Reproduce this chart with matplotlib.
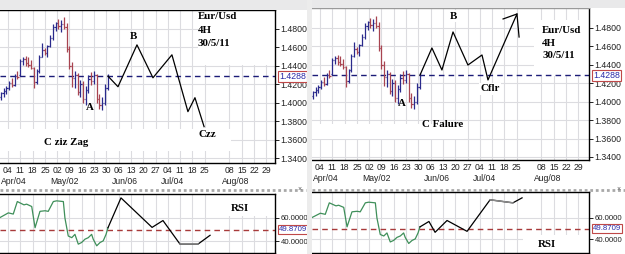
import numpy as np
import matplotlib
matplotlib.use("Agg")
import matplotlib.pyplot as plt
from matplotlib.patches import Rectangle
from matplotlib.lines import Line2D

# x unit: days since Mon 04 Apr 2011
# OHLC bars (EUR/USD, compressed 4H history up to 30/5/11)
opens = [1.406, 1.410, 1.413, 1.416, 1.421, 1.419, 1.429, 1.430, 1.445, 1.447,
         1.443, 1.441, 1.438, 1.422, 1.434, 1.450, 1.457, 1.454, 1.461, 1.470,
         1.482, 1.486, 1.483, 1.485, 1.482, 1.458, 1.440, 1.427, 1.430, 1.412,
         1.420, 1.404, 1.414, 1.426, 1.424, 1.430, 1.404, 1.397, 1.400, 1.416]
highs = [1.412, 1.416, 1.418, 1.424, 1.427, 1.431, 1.434, 1.447, 1.450, 1.451,
         1.450, 1.446, 1.439, 1.436, 1.452, 1.465, 1.459, 1.463, 1.473, 1.485,
         1.488, 1.491, 1.490, 1.493, 1.486, 1.461, 1.444, 1.434, 1.432, 1.425,
         1.423, 1.418, 1.430, 1.433, 1.434, 1.431, 1.409, 1.406, 1.420, 1.431]
lows = [1.403, 1.406, 1.409, 1.414, 1.417, 1.418, 1.426, 1.429, 1.441, 1.440,
        1.439, 1.436, 1.416, 1.420, 1.432, 1.449, 1.452, 1.450, 1.460, 1.468,
        1.478, 1.480, 1.477, 1.480, 1.455, 1.436, 1.417, 1.416, 1.408, 1.406,
        1.400, 1.398, 1.410, 1.419, 1.420, 1.400, 1.393, 1.392, 1.398, 1.414]
closes = [1.410, 1.413, 1.416, 1.421, 1.419, 1.429, 1.428, 1.445, 1.447, 1.443,
          1.441, 1.438, 1.422, 1.434, 1.450, 1.457, 1.454, 1.461, 1.470, 1.482,
          1.486, 1.483, 1.485, 1.482, 1.458, 1.440, 1.427, 1.430, 1.412, 1.420,
          1.404, 1.414, 1.426, 1.424, 1.430, 1.404, 1.397, 1.400, 1.416, 1.4288]
BAR_FIRST_DAY = -4.0
BAR_LAST_DAY = 56.7
LAST_PRICE = 1.4288

# hand drawn projections
zz_days = [56.9, 62.6, 73.4, 82.5, 93.3, 102.4, 106.4, 111.6]
zz_price = [1.4288, 1.4173, 1.4627, 1.4270, 1.4519, 1.3903, 1.4054, 1.3740]
fl_days = [56.9, 63.7, 69.4, 75.7, 84.2, 92.2, 95.6, 112.1, 113.3]
fl_price = [1.4288, 1.4583, 1.4344, 1.4757, 1.4398, 1.4507, 1.4236, 1.4952, 1.4702]
fl_extra_days = [104.2, 112.1]
fl_extra_price = [1.4898, 1.4952]

# RSI
rsi_days = [-4.6, 0.2, 3.0, 5.3, 7.2, 9.1, 10.6, 13.5, 15.4, 18.2, 21.1, 22.9,
            25.8, 27.7, 31.5, 32.4, 34.3, 36.3, 38.1, 40.0, 41.9, 43.8, 45.7,
            47.6, 48.5, 50.5, 52.4, 54.2, 55.8, 56.9]
rsi_vals = [60, 64, 63, 73.6, 72.2, 70.8, 71.4, 69.4, 51.4, 65.3, 65.8, 65.3,
            73.6, 74.2, 73.6, 59.7, 44.4, 43, 45.8, 37.5, 38.9, 41.7, 43, 45.8,
            41.7, 36.1, 38.9, 40.3, 45.8, 51.4]
RSI_LAST = 49.8709
zz_rsi_days = [56.9, 64.3, 82.0, 88.2, 97.9, 108.1, 115.0]
zz_rsi_vals = [51.4, 76.7, 51.7, 57.5, 37.5, 37.5, 45.0]
fl_rsi_days = [56.9, 62.0, 65.5, 72.3, 83.7, 96.8, 109.8, 115.0]
fl_rsi_vals = [51.4, 56.4, 46.4, 57.3, 47.3, 76.4, 73.6, 78.2]

# axis labels
week_days = [0, 7, 14, 21, 28, 35, 42, 49, 56, 63, 70, 77, 84, 91, 98, 105, 112,
             126, 133, 140, 147]
week_labels = ["04", "11", "18", "25", "02", "09", "16", "23", "30", "06", "13",
               "20", "27", "04", "11", "18", "25", "08", "15", "22", "29"]
month_days = [0, 28, 63, 91, 126]
month_labels = ["Apr/04", "May/02", "Jun/06", "Jul/04", "Aug/08"]
price_ticks = [1.34, 1.36, 1.38, 1.40, 1.42, 1.44, 1.46, 1.48]
rsi_ticks = [40, 60]

W, H = 625, 254
BLUE = "#2a2a8c"
RED = "#a84450"
GRID = "#dcdce0"
SANS = "Liberation Sans"
SERIF = "Liberation Serif"

plt.rcParams["font.family"] = SANS

fig = plt.figure(figsize=(W / 100, H / 100), dpi=100)
fig.patch.set_facecolor("white")


def frac(x0, y0, x1, y1):
    return [x0 / W, 1 - y1 / H, (x1 - x0) / W, (y1 - y0) / H]


def style_axis(ax, xmax, lsize):
    ax.set_facecolor("white")
    ax.set_xlim(-4.55, xmax)
    ax.yaxis.tick_right()
    ax.tick_params(axis="y", length=3, width=0.7, pad=1, labelsize=lsize,
                   colors="#222222")
    ax.set_xticks(week_days)
    ax.grid(True, color=GRID, lw=0.8)
    ax.set_axisbelow(True)
    ax.spines["left"].set_visible(False)
    for s in ("top", "right", "bottom"):
        ax.spines[s].set_color("black")
        ax.spines[s].set_linewidth(1.0)


def value_box(ax, y, text, lsize):
    ax.annotate(text, xy=(1, y), xycoords=("axes fraction", "data"),
                xytext=(4, 0), textcoords="offset pixels", va="center",
                ha="left", fontsize=lsize, color="#2a2aa8",
                bbox=dict(boxstyle="square,pad=0.12", fc="white",
                          ec="#c04848", lw=0.8))


def price_panel(rect, ylim, proj_days, proj_price):
    ax = fig.add_axes(rect)
    style_axis(ax, 151.96 if rect[0] < 0.3 else 153.1, 6.3)
    ax.set_ylim(*ylim)
    ax.set_yticks(price_ticks)
    ax.set_yticklabels(["%.4f" % t for t in price_ticks])
    ax.set_xticklabels(week_labels)
    ax.tick_params(axis="x", length=0, pad=2, labelsize=6.2, colors="#222222")
    for d, lab in zip(month_days, month_labels):
        ax.annotate(lab, xy=(d, 0), xycoords=("data", "axes fraction"),
                    xytext=(-7, -14), textcoords="offset pixels", ha="left",
                    va="top", fontsize=6.2, color="#222222",
                    annotation_clip=False)
    xs = np.linspace(BAR_FIRST_DAY, BAR_LAST_DAY, len(opens))
    cols = [BLUE if c >= o else RED for o, c in zip(opens, closes)]
    ax.vlines(xs, lows, highs, colors=cols, lw=0.9, zorder=3)
    ax.hlines(opens, xs - 0.7, xs, colors=cols, lw=0.9, zorder=3)
    ax.hlines(closes, xs, xs + 0.7, colors=cols, lw=0.9, zorder=3)
    ax.axhline(LAST_PRICE, color="#1c1c78", lw=1.0, ls=(0, (4, 3)), zorder=2)
    ax.plot(proj_days, proj_price, color="black", lw=0.9, zorder=4)
    value_box(ax, LAST_PRICE, "%.4f" % LAST_PRICE, 6.3)
    return ax


def rsi_panel(rect, ylim, proj_days, proj_vals, gray_seg):
    ax = fig.add_axes(rect)
    style_axis(ax, 151.96 if rect[0] < 0.3 else 153.1, 5.6)
    ax.set_ylim(*ylim)
    ax.set_yticks(rsi_ticks)
    ax.set_yticklabels(["%.4f" % t for t in rsi_ticks])
    ax.set_xticklabels([])
    ax.tick_params(axis="x", length=0)
    ax.axhline(RSI_LAST, color="#a83a3a", lw=1.0, ls=(0, (4, 3)), zorder=2)
    ax.plot(rsi_days, rsi_vals, color="#3f8f5a", lw=0.9, zorder=3)
    ax.plot(proj_days, proj_vals, color="black", lw=0.9, zorder=3)
    ax.plot(proj_days[gray_seg:gray_seg + 2], proj_vals[gray_seg:gray_seg + 2],
            color="#8a8a8a", lw=1.1, zorder=4)
    value_box(ax, RSI_LAST, "%.4f" % RSI_LAST, 5.6)
    return ax


txt = dict(family=SERIF, fontweight="bold", fontsize=7.8, color="black",
           ha="center", va="center")
wbox = dict(boxstyle="square,pad=0.15", fc="white", ec="none")

# ---- left: C zig zag ----
axL = price_panel(frac(0, 10, 275, 163), (1.3346, 1.5005), zz_days, zz_price)
axL.text(46.7, 1.3946, "A", zorder=5, **txt)
axL.text(71.1, 1.4714, "B", zorder=5, **txt)
axL.text(113.3, 1.3654, "Czz", zorder=5, bbox=wbox, **txt)
axL.add_patch(Rectangle((0, 0.08), 0.84, 0.145, transform=axL.transAxes,
                        fc="white", ec="none", zorder=1))
axL.text(33.0, 1.3568, "C ziz Zag", zorder=5, **txt)
axL.add_patch(Rectangle((0.72, 0.64), 0.28, 0.36, transform=axL.transAxes,
                        fc="white", ec="none", zorder=1))
for yv, s in zip([1.4930, 1.4778, 1.4638], ["Eur/Usd", "4H", "30/5/11"]):
    axL.text(108.1, yv, s, zorder=5, **dict(txt, ha="left"))

rL = rsi_panel(frac(0, 194, 275, 253), (30, 80), zz_rsi_days, zz_rsi_vals, 4)
rL.add_patch(Rectangle((0.775, 0.62), 0.225, 0.38, transform=rL.transAxes,
                       fc="white", ec="none", zorder=1))
rL.text(132.0, 67.5, "RSI", zorder=5, **txt)

# ---- right: C failure ----
axR = price_panel(frac(312, 8, 589, 160), (1.3367, 1.5017), fl_days, fl_price)
axR.spines["top"].set_color("#9a9a9a")
axR.plot(fl_extra_days, fl_extra_price, color="black", lw=0.9, zorder=4)
axR.text(46.7, 1.3975, "A", zorder=5, **txt)
axR.text(75.7, 1.4930, "B", zorder=5, bbox=wbox, **txt)
axR.add_patch(Rectangle((0, 0.14), 0.55, 0.1, transform=axR.transAxes,
                        fc="white", ec="none", zorder=1))
axR.text(70.0, 1.3747, "C Falure", zorder=5, **txt)
axR.text(96.8, 1.4138, "Cflr", zorder=5, bbox=wbox, **txt)
axR.add_patch(Rectangle((0.8, 0.55), 0.2, 0.37, transform=axR.transAxes,
                        fc="white", ec="none", zorder=1))
for yv, s in zip([1.4778, 1.4637, 1.4496], ["Eur/Usd", "4H", "30/5/11"]):
    axR.text(126.4, yv, s, zorder=5, **dict(txt, ha="left"))

rR = rsi_panel(frac(312, 192, 589, 253), (27.3, 83.6), fl_rsi_days, fl_rsi_vals, 5)
rR.add_patch(Rectangle((0.76, 0.0), 0.24, 0.3, transform=rR.transAxes,
                       fc="white", ec="none", zorder=1))
rR.text(129.2, 35.5, "RSI", zorder=5, **txt)

# ---- window chrome ----
fig.add_artist(Rectangle((0, 1 - 9.5 / H), 308 / W, 9.5 / H,
                         transform=fig.transFigure, fc="#e9e9ea", ec="none"))
fig.add_artist(Rectangle((312 / W, 1 - 7.5 / H), 313 / W, 7.5 / H,
                         transform=fig.transFigure, fc="#e9e9ea", ec="none"))
fig.add_artist(Rectangle((306.5 / W, 0), 5.5 / W, 1,
                         transform=fig.transFigure, fc="#ececec", ec="none",
                         zorder=10))
for x0, x1 in [(0, 306), (312, 625)]:
    fig.add_artist(Line2D([x0 / W, x1 / W], [1 - 189.5 / H] * 2,
                          transform=fig.transFigure, color="#a8a8a8",
                          lw=2.0, ls=(0, (1, 1))))
    fig.text((x1 - 6) / W, 1 - 189.5 / H, "×", fontsize=5, color="#555555",
             ha="center", va="center")

fig.savefig("out.png", dpi=100)
